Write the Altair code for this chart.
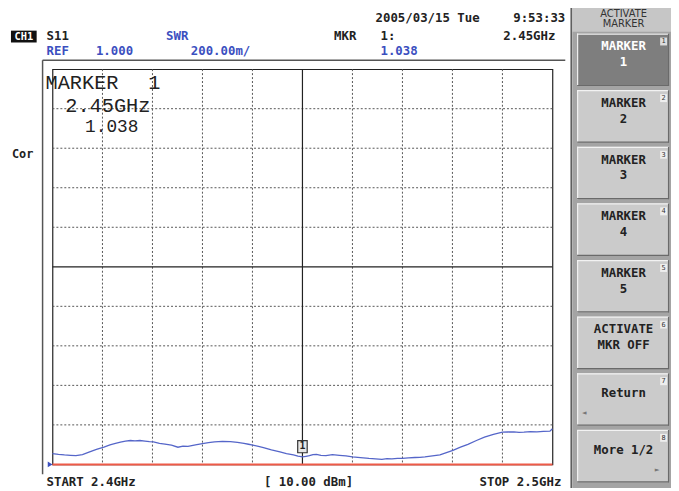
import altair as alt
import pandas as pd

# ---------------- data ----------------
freq_ghz = [2.4000, 2.4012, 2.4024, 2.4036, 2.4047, 2.4060, 2.4073, 2.4088, 2.4103, 2.4115,
            2.4126, 2.4136, 2.4146, 2.4156, 2.4165, 2.4175, 2.4185, 2.4194, 2.4202, 2.4214,
            2.4225, 2.4238, 2.4251, 2.4261, 2.4271, 2.4286, 2.4300, 2.4312, 2.4324, 2.4340,
            2.4356, 2.4370, 2.4383, 2.4392, 2.4401, 2.4412, 2.4422, 2.4438, 2.4455, 2.4468,
            2.4482, 2.4491, 2.4500, 2.4507, 2.4514, 2.4521, 2.4528, 2.4537, 2.4547, 2.4560,
            2.4574, 2.4587, 2.4600, 2.4616, 2.4633, 2.4646, 2.4659, 2.4669, 2.4679, 2.4690,
            2.4700, 2.4712, 2.4725, 2.4735, 2.4745, 2.4760, 2.4775, 2.4788, 2.4801, 2.4816,
            2.4831, 2.4848, 2.4864, 2.4882, 2.4900, 2.4911, 2.4923, 2.4933, 2.4943, 2.4956,
            2.4969, 2.4982, 2.4995, 2.5000]
swr = [1.055, 1.051, 1.048, 1.046, 1.044, 1.050, 1.062, 1.076, 1.088, 1.099,
       1.107, 1.113, 1.118, 1.121, 1.119, 1.121, 1.118, 1.115, 1.114, 1.106,
       1.103, 1.097, 1.087, 1.093, 1.091, 1.099, 1.105, 1.110, 1.114, 1.117,
       1.115, 1.111, 1.106, 1.102, 1.098, 1.091, 1.085, 1.073, 1.063, 1.055,
       1.048, 1.042, 1.038, 1.041, 1.044, 1.050, 1.051, 1.046, 1.044, 1.049,
       1.046, 1.043, 1.038, 1.034, 1.030, 1.028, 1.026, 1.029, 1.028, 1.030,
       1.030, 1.033, 1.035, 1.036, 1.038, 1.043, 1.048, 1.060, 1.071, 1.087,
       1.101, 1.121, 1.138, 1.152, 1.163, 1.164, 1.165, 1.162, 1.163, 1.166,
       1.165, 1.167, 1.168, 1.180]

marker_freq = [2.45]
marker_swr = [1.038]
marker_label = ["1"]

x_start, x_stop = 2.4, 2.5
ref_value, per_div = 1.0, 0.2
x_dotted = [2.41, 2.42, 2.43, 2.44, 2.46, 2.47, 2.48, 2.49]
y_dotted = [1.2, 1.4, 1.6, 1.8, 2.2, 2.4, 2.6, 2.8]
x_center = [2.45]
y_center = [2.0]

button_labels = [["MARKER", "1"], ["MARKER", "2"], ["MARKER", "3"], ["MARKER", "4"],
                 ["MARKER", "5"], ["ACTIVATE", "MKR OFF"], ["Return"], ["More 1/2"]]

# ---------------- layout ----------------
W, H = 506, 400
OX, OY = 53, 67  # page position of plot origin

trace_df = pd.DataFrame({"f": freq_ghz, "swr": swr})
mk_df = pd.DataFrame({"f": marker_freq, "swr": marker_swr, "lab": marker_label})
one = pd.DataFrame({"k": [0]})

xs = alt.Scale(domain=[x_start, x_stop], nice=False, zero=False)
ys = alt.Scale(domain=[ref_value, ref_value + 10 * per_div], nice=False, zero=False)

MONO = "DejaVu Sans Mono"
BLUE = "#3b4fbf"
DARK = "#222222"


def px(x):
    return x - OX


def py(y):
    return y - OY


def txt(s, x, y, size=12.5, color=DARK, font=MONO, weight="bold", align="left", baseline="middle"):
    return alt.Chart(one).mark_text(text=s, fontSize=size, color=color, font=font,
                                    fontWeight=weight, align=align, baseline=baseline).encode(
        x=alt.value(px(x)), y=alt.value(py(y)))


def rect(x1, y1, x2, y2, fill):
    return alt.Chart(one).mark_rect(color=fill).encode(
        x=alt.value(px(x1)), x2=alt.value(px(x2)), y=alt.value(py(y1)), y2=alt.value(py(y2)))


def line(x1, y1, x2, y2, color, width=1.0):
    return alt.Chart(one).mark_rule(color=color, strokeWidth=width).encode(
        x=alt.value(px(x1)), x2=alt.value(px(x2)), y=alt.value(py(y1)), y2=alt.value(py(y2)))


layers = []

# softkey panel
layers.append(rect(579, 0, 679, 491, "#a4a4a4"))
layers.append(rect(579, 0, 679, 29, "#c6c6c6"))
layers.append(line(578, 0, 578, 491, "#555555", 1.5))
layers.append(txt("ACTIVATE", 631, 11, size=10, weight="normal", align="center", font="DejaVu Sans", color="#333333"))
layers.append(txt("MARKER", 631, 21, size=10, weight="normal", align="center", font="DejaVu Sans", color="#333333"))

for i, lab in enumerate(button_labels):
    top = 31 + 57.3 * i
    bot = top + 53
    face = "#7e7e7e" if i == 0 else "#cbcbcb"
    tcol = "#ffffff" if i == 0 else DARK
    layers.append(rect(584, top, 677, bot, face))
    layers.append(line(584, top + 0.5, 677, top + 0.5, "#f2f2f2", 1.2))
    layers.append(line(584.5, top, 584.5, bot, "#f2f2f2", 1.2))
    layers.append(line(584, bot - 0.5, 677, bot - 0.5, "#6a6a6a", 1.2))
    layers.append(line(676.5, top, 676.5, bot, "#6a6a6a", 1.2))
    layers.append(rect(668, top + 4, 675, top + 12, "#eeeeee" if i else "#dddddd"))
    layers.append(txt(str(i + 1), 671.5, top + 8, size=7, weight="normal", align="center", color="#333333"))
    if len(lab) == 2:
        layers.append(txt(lab[0], 631, top + 13, size=12.5, align="center", color=tcol))
        layers.append(txt(lab[1], 631, top + 29, size=12.5, align="center", color=tcol))
    else:
        layers.append(txt(lab[0], 631, top + 20, size=12.5, align="center", color=tcol))
    if lab[0] == "Return":
        layers.append(txt("\u25c4", 591, top + 40, size=8, weight="normal", align="center", color="#777777"))
    if lab[0].startswith("More"):
        layers.append(txt("\u25ba", 665, top + 41, size=8, weight="normal", align="center", color="#777777"))

# outer frame
layers.append(line(43, 58, 572, 58, "#555555", 1.5))
layers.append(line(43, 58, 43, 477, "#555555", 1.5))

# graticule
layers.append(alt.Chart(pd.DataFrame({"f": x_dotted})).mark_rule(
    color="#555555", strokeWidth=1, strokeDash=[2, 2]).encode(x=alt.X("f:Q", scale=xs, axis=None)))
layers.append(alt.Chart(pd.DataFrame({"s": y_dotted})).mark_rule(
    color="#555555", strokeWidth=1, strokeDash=[2, 2]).encode(y=alt.Y("s:Q", scale=ys, axis=None)))
layers.append(alt.Chart(pd.DataFrame({"f": x_center})).mark_rule(
    color=DARK, strokeWidth=1.2).encode(x=alt.X("f:Q", scale=xs, axis=None)))
layers.append(alt.Chart(pd.DataFrame({"s": y_center})).mark_rule(
    color=DARK, strokeWidth=1.2).encode(y=alt.Y("s:Q", scale=ys, axis=None)))

# reference line and ref triangle
ref_df = pd.DataFrame({"s": [ref_value], "f": [x_start]})
layers.append(alt.Chart(ref_df).mark_rule(color="#ee5a48", strokeWidth=2).encode(
    y=alt.Y("s:Q", scale=ys, axis=None)))
layers.append(alt.Chart(ref_df).mark_point(
    shape="M-1.6,-1L0,0L-1.6,1Z", filled=True, color=BLUE, size=36, opacity=1).encode(
    x=alt.X("f:Q", scale=xs, axis=None), y=alt.Y("s:Q", scale=ys, axis=None)))

# trace
layers.append(alt.Chart(trace_df).mark_line(color="#5566c9", strokeWidth=1.3).encode(
    x=alt.X("f:Q", scale=xs, axis=None), y=alt.Y("swr:Q", scale=ys, axis=None)))

# marker box
BOX = "M-0.8,-2.75L0.8,-2.75L0.8,-0.7L-0.8,-0.7Z"
layers.append(alt.Chart(mk_df).mark_point(
    shape=BOX, filled=True, color="#e8e8e8", size=144, opacity=1).encode(
    x=alt.X("f:Q", scale=xs, axis=None), y=alt.Y("swr:Q", scale=ys, axis=None)))
layers.append(alt.Chart(mk_df).mark_point(
    shape=BOX, filled=False, color="#333333", size=144, strokeWidth=1.2, opacity=1).encode(
    x=alt.X("f:Q", scale=xs, axis=None), y=alt.Y("swr:Q", scale=ys, axis=None)))
layers.append(alt.Chart(mk_df).mark_text(fontSize=10, font=MONO, fontWeight="bold", color=DARK, dy=-10.5).encode(
    x=alt.X("f:Q", scale=xs, axis=None), y=alt.Y("swr:Q", scale=ys, axis=None), text="lab:N"))

# header texts
layers.append(txt("2005/03/15 Tue", 380, 15))
layers.append(txt("9:53:33", 572, 15, align="right"))
layers.append(rect(11, 28, 37, 40, "#111111"))
layers.append(txt("CH1", 24, 34, size=10.5, color="#ffffff", align="center"))
layers.append(txt("S11", 47, 33))
layers.append(txt("SWR", 168, 33, color=BLUE))
layers.append(txt("MKR", 338, 33))
layers.append(txt("1:", 385, 33))
layers.append(txt("2.45GHz", 562, 33, align="right"))
layers.append(txt("REF", 47, 49, color=BLUE))
layers.append(txt("1.000", 97, 49, color=BLUE))
layers.append(txt("200.00m/", 193, 49, color=BLUE))
layers.append(txt("1.038", 385, 49, color=BLUE))
layers.append(txt("Cor", 12, 153, size=12))

# on-screen marker readout
BIG = "Liberation Mono"
layers.append(txt("MARKER", 46, 87, size=20.5, font=BIG, weight="normal", baseline="alphabetic"))
layers.append(txt("1", 150, 87, size=20.5, font=BIG, weight="normal", baseline="alphabetic"))
layers.append(txt("2.45GHz", 66, 110, size=20.5, font=BIG, weight="normal", baseline="alphabetic"))
layers.append(txt("1.038", 86, 131, size=18, font=BIG, weight="normal", baseline="alphabetic"))

# footer
layers.append(txt("START 2.4GHz", 47, 485))
layers.append(txt("[ 10.00 dBm]", 267, 485))
layers.append(txt("STOP 2.5GHz", 568, 485, align="right"))

chart = alt.layer(*layers).properties(
    width=W, height=H,
    padding={"left": OX - 8, "top": OY - 8, "right": 671 - (OX - 8) - W, "bottom": 483 - (OY - 8) - H},
    autosize=alt.AutoSizeParams(type="none"),
    background="white",
).configure_view(stroke=DARK, strokeWidth=1.2)

chart.save("out.html", embed_options={"renderer": "svg", "actions": False})
